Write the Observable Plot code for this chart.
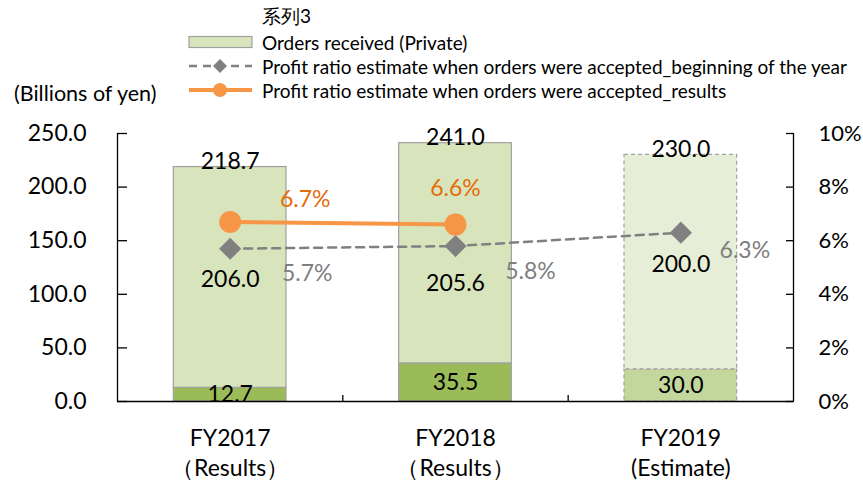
<!DOCTYPE html>
<html>
<head>
<meta charset="utf-8">
<script src="https://cdn.jsdelivr.net/npm/d3@7"></script>
<script src="https://cdn.jsdelivr.net/npm/@observablehq/plot@0.6"></script>
<style>
  html, body { margin: 0; padding: 0; background: #fff; }
  #wrap { position: relative; width: 863px; height: 484px; font-family: Lato, "Open Sans", sans-serif; }
  #legend { position: absolute; left: 0; top: 0; width: 863px; height: 110px; font-size: 19px; color: #000; }
  .row { position: absolute; left: 188px; height: 24px; display: flex; align-items: center; white-space: nowrap; }
  .row svg { margin-right: 9px; }
  #unit { position: absolute; left: 14px; top: 80px; font-size: 21.5px; white-space: nowrap; }
</style>
</head>
<body>
<div id="wrap">
  <div id="chart"></div>
  <div id="legend">
    <div class="row" style="top:5px; left:262px;">系列3</div>
    <div class="row" style="top:30px;"><svg width="65" height="14"><rect x="1" y="1.5" width="63" height="11" fill="#D8E4BC" stroke="#A0A0A0" stroke-width="1.2"/></svg>Orders received (Private)</div>
    <div class="row" style="top:54px;"><svg width="65" height="24"><line x1="1" y1="12" x2="64" y2="12" stroke="#808080" stroke-width="2.5" stroke-dasharray="8,6"/><path d="M32,5 L39,12 L32,19 L25,12 Z" fill="#808080"/></svg>Profit ratio estimate when orders were accepted_beginning of the year</div>
    <div class="row" style="top:78px;"><svg width="65" height="24"><line x1="1" y1="12" x2="64" y2="12" stroke="#F79646" stroke-width="4"/><circle cx="32" cy="12" r="7" fill="#F79646"/></svg>Profit ratio estimate when orders were accepted_results</div>
  </div>
  <div id="unit">(Billions of yen)</div>
</div>
<script>
// ---- data ----
const categories = ["FY2017", "FY2018", "FY2019"];
const categorySub = ["（Results）", "（Results）", "(Estimate)"];
const ordersBottom = [12.7, 35.5, 30.0];     // lower segment
const ordersTop = [206.0, 205.6, 200.0];     // upper segment (label value)
const ordersTotal = [218.7, 241.0, 230.0];   // total
const ratioBeginning = [5.7, 5.8, 6.3];      // %
const ratioResults = [6.7, 6.6];             // %
const leftTicks = [0, 50, 100, 150, 200, 250];
const rightTicks = [0, 2, 4, 6, 8, 10];

// ---- build rows ----
const rows = categories.map((c, i) => ({
  i, c, sub: categorySub[i],
  bottom: ordersBottom[i], top: ordersTop[i], total: ordersTotal[i],
  est: i === 2
}));
const PCT = 25; // 10% maps to 250 on the shared y scale
const beg = ratioBeginning.map((v, i) => ({i, v}));
const res = ratioResults.map((v, i) => ({i, v}));

const begDx = [77, 75, 64], begDy = [25, 26, 18];
const resDx = [75, 0], resDy = [-22, -36];

const actual = rows.filter(d => !d.est);
const estimate = rows.filter(d => d.est);
const hw = 0.25;
const FS = 23;

const chart = Plot.plot({
  width: 863,
  height: 484,
  marginLeft: 117,
  marginRight: 70,
  marginTop: 133,
  marginBottom: 83,
  style: {fontFamily: "Lato, 'Open Sans', sans-serif", fontSize: FS + "px", color: "#000", background: "transparent"},
  x: {type: "linear", domain: [-0.5, 2.5], axis: null},
  y: {domain: [0, 250], axis: null},
  marks: [
    // bars: actual
    Plot.rectY(actual, {x1: d => d.i - hw, x2: d => d.i + hw, y1: 0, y2: d => d.bottom, fill: "#9BBB59", stroke: "#A0A0A0", strokeWidth: 1.2}),
    Plot.rectY(actual, {x1: d => d.i - hw, x2: d => d.i + hw, y1: d => d.bottom, y2: d => d.total, fill: "#D8E4BC", stroke: "#A0A0A0", strokeWidth: 1.2}),
    // bars: estimate (dashed)
    Plot.rectY(estimate, {x1: d => d.i - hw, x2: d => d.i + hw, y1: 0, y2: d => d.bottom, fill: "#C3D69B", stroke: "#A0A0A0", strokeWidth: 1.2, strokeDasharray: "4,3"}),
    Plot.rectY(estimate, {x1: d => d.i - hw, x2: d => d.i + hw, y1: d => d.bottom, y2: d => d.total, fill: "#E6EED7", stroke: "#A0A0A0", strokeWidth: 1.2, strokeDasharray: "4,3"}),
    // axes lines
    Plot.ruleY([0], {stroke: "#000", strokeWidth: 1.3}),
    Plot.ruleX([-0.5], {y1: 0, y2: 250, stroke: "#000", strokeWidth: 1.3}),
    Plot.ruleX([2.5], {y1: 0, y2: 250, stroke: "#000", strokeWidth: 1.3}),
    Plot.ruleX([0.5, 1.5], {y1: 0, y2: 5.6, stroke: "#000", strokeWidth: 1.3}),
    // left / right ticks & labels
    Plot.axisY({anchor: "left", ticks: leftTicks, tickFormat: d => d.toFixed(1), tickSize: -10, tickPadding: 41, strokeWidth: 1.3, fontSize: FS}),
    Plot.axisY({anchor: "right", ticks: rightTicks.map(p => p * PCT), tickFormat: d => (d / PCT) + "%", tickSize: -8, tickPadding: 33, strokeWidth: 1.3, fontSize: 22}),
    // x labels
    Plot.text(rows, {x: d => d.i, text: d => d.c + "\n" + d.sub, frameAnchor: "bottom", lineAnchor: "top", dy: 23, lineHeight: 1.3, fontSize: FS}),
    // bar labels
    Plot.text(rows, {x: d => d.i, y: d => d.total, text: d => d.total.toFixed(1), lineAnchor: "bottom", dy: 2, fontSize: FS}),
    Plot.text(rows.filter(d => d.i !== 1), {x: d => d.i, y: d => (d.bottom + d.total) / 2, text: d => d.top.toFixed(1), dy: 2, fontSize: FS}),
    Plot.text(rows.filter(d => d.i === 1), {x: d => d.i, y: d => (d.bottom + d.total) / 2, text: d => d.top.toFixed(1), dy: 30, fontSize: FS}),
    Plot.text(rows, {x: d => d.i, y: d => d.bottom / 2, text: d => d.bottom.toFixed(1), fontSize: FS}),
    // beginning-of-year line
    Plot.line(beg, {x: "i", y: d => d.v * PCT, stroke: "#808080", strokeWidth: 2.5, strokeDasharray: "8,6"}),
    Plot.dot(beg, {x: "i", y: d => d.v * PCT, symbol: "diamond2", r: 10, fill: "#808080", stroke: "none"}),
    ...beg.map((d, k) => Plot.text([d], {x: "i", y: e => e.v * PCT, text: e => e.v.toFixed(1) + "%", dx: begDx[k], dy: begDy[k], fill: "#7F7F7F", fontSize: FS})),
    // results line
    Plot.line(res, {x: "i", y: d => d.v * PCT, stroke: "#F79646", strokeWidth: 4}),
    Plot.dot(res, {x: "i", y: d => d.v * PCT, r: 11, fill: "#F79646", stroke: "none"}),
    ...res.map((d, k) => Plot.text([d], {x: "i", y: e => e.v * PCT, text: e => e.v.toFixed(1) + "%", dx: resDx[k], dy: resDy[k], fill: "#E46C0A", fontSize: FS}))
  ]
});
document.getElementById("chart").appendChild(chart);
</script>
</body>
</html>
